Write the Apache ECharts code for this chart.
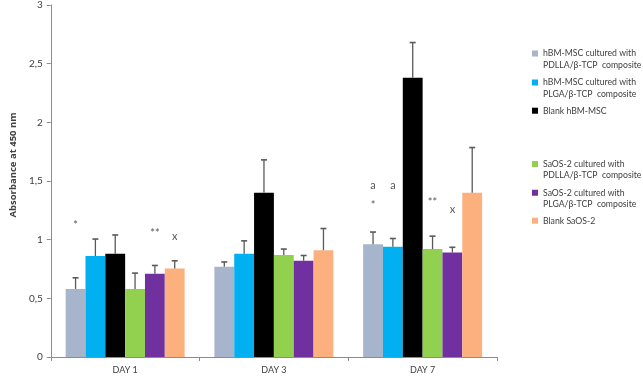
<!DOCTYPE html>
<html><head><meta charset="utf-8">
<script src="https://cdn.jsdelivr.net/npm/echarts@6/dist/echarts.min.js"></script>
<style>html,body{margin:0;padding:0;background:#fff}#c{width:643px;height:376px}</style>
</head><body><div id="c"></div>
<script>
const days = ['DAY 1', 'DAY 3', 'DAY 7'];
const seriesNames = [
  'hBM-MSC cultured with\nPDLLA/β-TCP  composite',
  'hBM-MSC cultured with\nPLGA/β-TCP  composite',
  'Blank hBM-MSC',
  'SaOS-2 cultured with\nPDLLA/β-TCP  composite',
  'SaOS-2 cultured with\nPLGA/β-TCP  composite',
  'Blank SaOS-2'
];
const colors = ['#A6B4CC', '#00B0F0', '#000000', '#92D050', '#7030A0', '#FBB07E'];
// mean absorbance per series, per day
const hbmPdlla = [0.58, 0.77, 0.96];
const hbmPlga = [0.86, 0.88, 0.94];
const hbmBlank = [0.88, 1.40, 2.38];
const saosPdlla = [0.58, 0.87, 0.92];
const saosPlga = [0.71, 0.82, 0.89];
const saosBlank = [0.755, 0.91, 1.40];
// upper end of error bars
const hbmPdllaErr = [0.675, 0.81, 1.065];
const hbmPlgaErr = [1.005, 0.99, 1.01];
const hbmBlankErr = [1.04, 1.68, 2.68];
const saosPdllaErr = [0.715, 0.92, 1.03];
const saosPlgaErr = [0.78, 0.865, 0.935];
const saosBlankErr = [0.82, 1.095, 1.785];
const yTicks = ['0', '0,5', '1', '1,5', '2', '2,5', '3'];
// significance marks: [series index, day index, text, y value]
const marks = [
  [0, 0, '*', 1.12],
  [4, 0, '**', 1.05],
  [5, 0, 'x', 1.03],
  [0, 2, 'a', 1.46],
  [1, 2, 'a', 1.46],
  [0, 2, '*', 1.29],
  [3, 2, '**', 1.32],
  [4, 2, 'x', 1.26]
];

const values = [hbmPdlla, hbmPlga, hbmBlank, saosPdlla, saosPlga, saosBlank];
const errs = [hbmPdllaErr, hbmPlgaErr, hbmBlankErr, saosPdllaErr, saosPlgaErr, saosBlankErr];
const NS = seriesNames.length;
const CATGAP = 0.2;

const chart = echarts.init(document.getElementById('c'));
const FONT = 'Lato';

const series = seriesNames.map((n, i) => ({
  name: n, type: 'bar', data: values[i], barGap: '0%', barCategoryGap: '20%',
  itemStyle: { color: colors[i] }
}));

const errData = [];
errs.forEach((arr, s) => arr.forEach((v, d) => errData.push([d, v, values[s][d], s])));
series.push({
  type: 'custom', z: 5, silent: true, data: errData,
  renderItem: function (params, api) {
    const d = api.value(0), s = api.value(3);
    const top = api.coord([d, api.value(1)]);
    const bot = api.coord([d, api.value(2)]);
    const bw = api.size([1, 0])[0] * (1 - CATGAP) / NS;
    const x = top[0] + (s - (NS - 1) / 2) * bw;
    const st = { stroke: '#5a5a5a', lineWidth: 1.3 };
    return { type: 'group', children: [
      { type: 'line', shape: { x1: x, y1: bot[1], x2: x, y2: top[1] }, style: st },
      { type: 'line', shape: { x1: x - 3, y1: top[1], x2: x + 3, y2: top[1] }, style: { stroke: '#5a5a5a', lineWidth: 1.6 } }
    ]};
  }
});
series.push({
  type: 'custom', z: 6, silent: true, data: marks.map(m => [m[1], m[3], m[0], m[2]]),
  renderItem: function (params, api) {
    const d = api.value(0), s = api.value(2);
    const p = api.coord([d, api.value(1)]);
    const bw = api.size([1, 0])[0] * (1 - CATGAP) / NS;
    const x = p[0] + (s - (NS - 1) / 2) * bw;
    return { type: 'text', style: { x: x, y: p[1], text: marks[params.dataIndex][2], fill: '#595959',
      font: '11px ' + FONT, textAlign: 'center', textVerticalAlign: 'middle' } };
  }
});

// icon square sits at the first text line of a two-line legend entry
const twoLineIcon = 'path://M0,2.75h6v6h-6zM0,0h0.01v0.01h-0.01zM0,23h0.01v0.01h-0.01z';
const legendCenters = [53.5, 82.5, 110.7, 164, 192.7, 220.7];
const legends = seriesNames.map((n, i) => {
  const two = n.indexOf('\n') >= 0;
  return {
    data: [n], orient: 'vertical', left: 532, top: legendCenters[i] - 5.75, padding: 0,
    itemWidth: 6, itemHeight: two ? 23 : 6, icon: two ? twoLineIcon : 'rect', selectedMode: false,
    symbolKeepAspect: false,
    textStyle: { fontFamily: FONT, fontSize: 8.7, color: '#404040', lineHeight: 11.5 }
  };
});

chart.setOption({
  animation: false,
  backgroundColor: '#fff',
  color: colors,
  grid: { left: 35, right: 146, top: 4, bottom: 19 },
  legend: legends,
  xAxis: {
    type: 'category', data: days,
    axisLine: { lineStyle: { color: '#8c8c8c', width: 1 } },
    axisTick: { show: true, length: 4, lineStyle: { color: '#8c8c8c' } },
    axisLabel: { fontFamily: FONT, fontSize: 9, color: '#404040', margin: 9 }
  },
  yAxis: {
    type: 'value', min: 0, max: 3, interval: 0.5,
    name: 'Absorbance at 450 nm', nameLocation: 'middle', nameRotate: 90, nameGap: 32,
    nameTextStyle: { fontFamily: 'Open Sans', fontSize: 9.5, fontWeight: 'bold', color: '#404040', padding: [0, 0, 0, 32] },
    axisLine: { show: true, lineStyle: { color: '#8c8c8c', width: 1 } },
    axisTick: { show: true, length: 4, lineStyle: { color: '#8c8c8c' } },
    splitLine: { show: false },
    axisLabel: { fontFamily: FONT, fontSize: 10, color: '#404040', margin: 8,
      formatter: function (v) { return yTicks[Math.round(v / 0.5)]; } }
  },
  series: series
});
</script></body></html>
